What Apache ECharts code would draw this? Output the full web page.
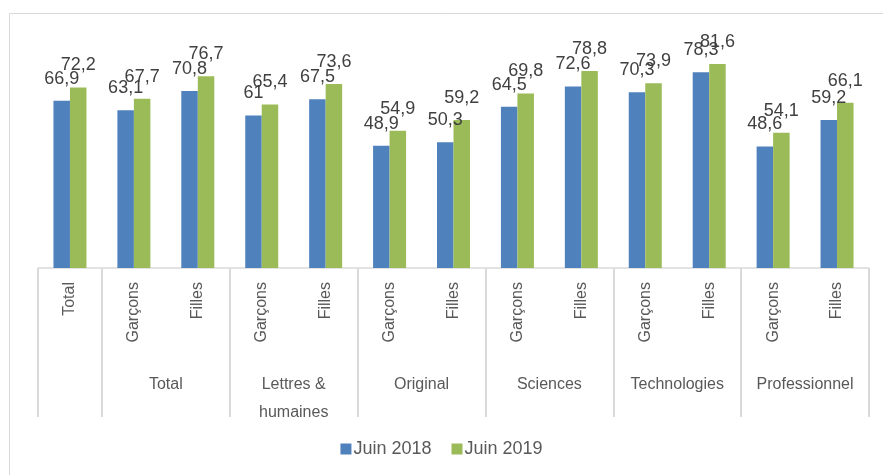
<!DOCTYPE html>
<html lang="fr">
<head>
	<meta charset="utf-8">
	<title>Juin 2018 / Juin 2019</title>
	<script src="https://cdn.jsdelivr.net/npm/echarts@6/dist/echarts.min.js"></script>
	<style>
		html, body { margin: 0; padding: 0; background: #fff; }
		#main { width: 883px; height: 475px; }
	</style>
</head>
<body>
<div id="main"></div>
<script>
	// sous-catégories (axe 1)
	const categories = ['Total', 'Garçons', 'Filles', 'Garçons', 'Filles', 'Garçons', 'Filles',
		'Garçons', 'Filles', 'Garçons', 'Filles', 'Garçons', 'Filles'];
	// groupes (axe 2)
	const groupNames = ['Total', 'Lettres &\nhumaines', 'Original', 'Sciences', 'Technologies', 'Professionnel'];
	const groupCenters = [2, 4, 6, 8, 10, 12];
	const groupBounds = [0, 1, 3, 5, 7, 9, 11, 13];

	const juin2018 = [66.9, 63.1, 70.8, 61, 67.5, 48.9, 50.3, 64.5, 72.6, 70.3, 78.3, 48.6, 59.2];
	const juin2019 = [72.2, 67.7, 76.7, 65.4, 73.6, 54.9, 59.2, 69.8, 78.8, 73.9, 81.6, 54.1, 66.1];

	const font = 'Liberation Sans, Arial, sans-serif';
	const chart = echarts.init(document.getElementById('main'));

	const label = {
		show: true,
		position: 'top',
		distance: 13,
		color: '#404040',
		fontSize: 18,
		fontFamily: font,
		formatter: p => String(p.value).replace('.', ',')
	};

	const option = {
		animation: false,
		textStyle: { fontFamily: font },
		graphic: [{
			type: 'rect',
			shape: { x: 9.5, y: 13.5, width: 900, height: 500 },
			style: { fill: 'none', stroke: '#d9d9d9', lineWidth: 1 },
			silent: true
		}],
		grid: { left: 38, right: 14, top: 18, bottom: 207 },
		legend: {
			bottom: 12,
			left: 'center',
			itemWidth: 11,
			itemHeight: 11,
			itemGap: 20,
			icon: 'rect',
			textStyle: { color: '#595959', fontSize: 18, fontFamily: font, padding: [0, 0, 0, -3] },
			data: ['Juin 2018', 'Juin 2019']
		},
		xAxis: [{
			type: 'category',
			data: categories,
			axisLine: { lineStyle: { color: '#d9d9d9', width: 1.5 } },
			axisTick: { show: false },
			axisLabel: { rotate: 90, margin: 14, color: '#595959', fontSize: 16, fontFamily: font }
		}, {
			type: 'value',
			position: 'bottom',
			min: 0,
			max: 13,
			axisLine: { show: false },
			splitLine: { show: false },
			axisTick: {
				show: true,
				customValues: groupBounds,
				length: 149,
				lineStyle: { color: '#d9d9d9', width: 2 }
			},
			axisLabel: {
				customValues: groupCenters,
				margin: 103,
				color: '#595959',
				fontSize: 16,
				lineHeight: 28,
				fontFamily: font,
				formatter: v => groupNames[groupCenters.indexOf(v)] || ''
			}
		}],
		yAxis: {
			type: 'value',
			min: 0,
			max: 100,
			show: false
		},
		series: [{
			name: 'Juin 2018',
			type: 'bar',
			data: juin2018,
			barWidth: 16.5,
			barGap: '0%',
			itemStyle: { color: '#4f81bd' },
			label: label
		}, {
			name: 'Juin 2019',
			type: 'bar',
			data: juin2019,
			barWidth: 16.5,
			itemStyle: { color: '#9bbb59' },
			label: label
		}]
	};

	chart.setOption(option);
</script>
</body>
</html>
